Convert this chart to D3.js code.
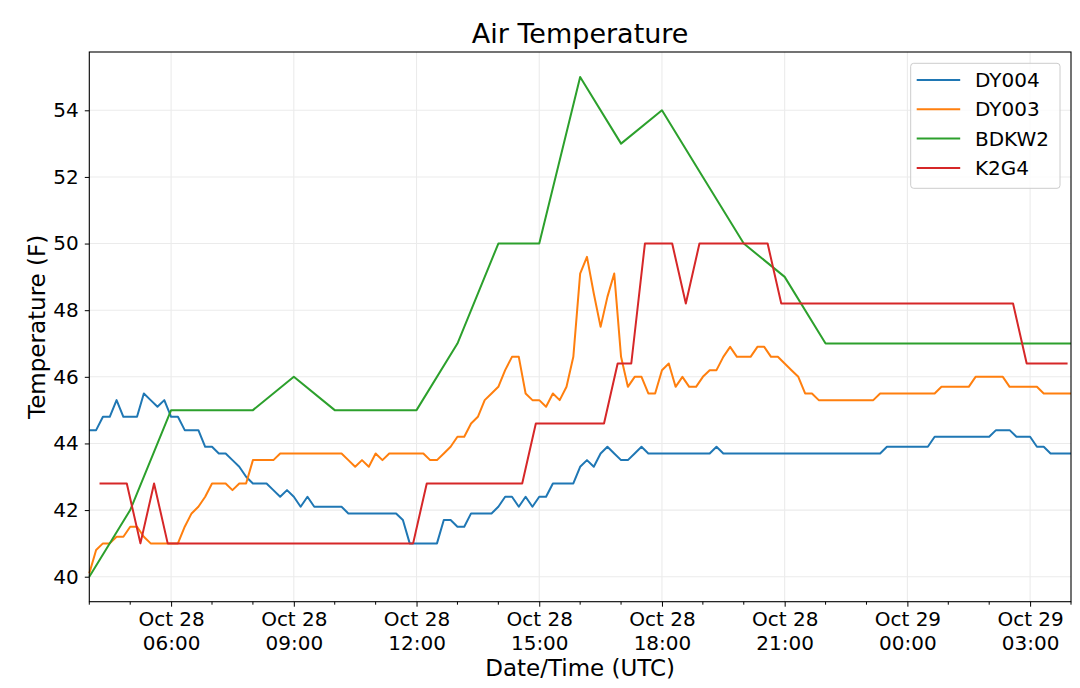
<!DOCTYPE html>
<html>
<head>
<meta charset="utf-8">
<script src="https://cdn.jsdelivr.net/npm/d3@7"></script>
<style>
body { margin: 0; background: #fff; }
text { font-family: "DejaVu Sans", sans-serif; fill: #000; }
</style>
</head>
<body>
<div id="chart"></div>
<script>
// series names and colours (matplotlib tab10)
var seriesNames = ['DY004', 'DY003', 'BDKW2', 'K2G4']
var seriesColors = ['#1f77b4', '#ff7f0e', '#2ca02c', '#d62728']

// DY004 / DY003 are sampled every 10 minutes from 10/28 04:00 UTC, one row per hour
var sampleStart = '10/28 04:00'
var sampleStepMinutes = 10
var dy004 = [
  44.4, 44.4, 44.8, 44.8, 45.3, 44.8,   // 04
  44.8, 44.8, 45.5, 45.3, 45.1, 45.3,   // 05
  44.8, 44.8, 44.4, 44.4, 44.4, 43.9,   // 06
  43.9, 43.7, 43.7, 43.5, 43.3, 43.0,   // 07
  42.8, 42.8, 42.8, 42.6, 42.4, 42.6,   // 08
  42.4, 42.1, 42.4, 42.1, 42.1, 42.1,   // 09
  42.1, 42.1, 41.9, 41.9, 41.9, 41.9,   // 10
  41.9, 41.9, 41.9, 41.9, 41.7, 41.0,   // 11
  41.0, 41.0, 41.0, 41.0, 41.7, 41.7,   // 12
  41.5, 41.5, 41.9, 41.9, 41.9, 41.9,   // 13
  42.1, 42.4, 42.4, 42.1, 42.4, 42.1,   // 14
  42.4, 42.4, 42.8, 42.8, 42.8, 42.8,   // 15
  43.3, 43.5, 43.3, 43.7, 43.9, 43.7,   // 16
  43.5, 43.5, 43.7, 43.9, 43.7, 43.7,   // 17
  43.7, 43.7, 43.7, 43.7, 43.7, 43.7,   // 18
  43.7, 43.7, 43.9, 43.7, 43.7, 43.7,   // 19
  43.7, 43.7, 43.7, 43.7, 43.7, 43.7,   // 20
  43.7, 43.7, 43.7, 43.7, 43.7, 43.7,   // 21
  43.7, 43.7, 43.7, 43.7, 43.7, 43.7,   // 22
  43.7, 43.7, 43.7, 43.9, 43.9, 43.9,   // 23
  43.9, 43.9, 43.9, 43.9, 44.2, 44.2,   // 00
  44.2, 44.2, 44.2, 44.2, 44.2, 44.2,   // 01
  44.2, 44.4, 44.4, 44.4, 44.2, 44.2,   // 02
  44.2, 43.9, 43.9, 43.7, 43.7, 43.7,   // 03
  43.7                                  // 04
]
var dy003 = [
  40.1, 40.8, 41.0, 41.0, 41.2, 41.2,   // 04
  41.5, 41.5, 41.2, 41.0, 41.0, 41.0,   // 05
  41.0, 41.0, 41.5, 41.9, 42.1, 42.4,   // 06
  42.8, 42.8, 42.8, 42.6, 42.8, 42.8,   // 07
  43.5, 43.5, 43.5, 43.5, 43.7, 43.7,   // 08
  43.7, 43.7, 43.7, 43.7, 43.7, 43.7,   // 09
  43.7, 43.7, 43.5, 43.3, 43.5, 43.3,   // 10
  43.7, 43.5, 43.7, 43.7, 43.7, 43.7,   // 11
  43.7, 43.7, 43.5, 43.5, 43.7, 43.9,   // 12
  44.2, 44.2, 44.6, 44.8, 45.3, 45.5,   // 13
  45.7, 46.2, 46.6, 46.6, 45.5, 45.3,   // 14
  45.3, 45.1, 45.5, 45.3, 45.7, 46.6,   // 15
  49.1, 49.6, 48.5, 47.5, 48.4, 49.1,   // 16
  46.6, 45.7, 46.0, 46.0, 45.5, 45.5,   // 17
  46.2, 46.4, 45.7, 46.0, 45.7, 45.7,   // 18
  46.0, 46.2, 46.2, 46.6, 46.9, 46.6,   // 19
  46.6, 46.6, 46.9, 46.9, 46.6, 46.6,   // 20
  46.4, 46.2, 46.0, 45.5, 45.5, 45.3,   // 21
  45.3, 45.3, 45.3, 45.3, 45.3, 45.3,   // 22
  45.3, 45.3, 45.5, 45.5, 45.5, 45.5,   // 23
  45.5, 45.5, 45.5, 45.5, 45.5, 45.7,   // 00
  45.7, 45.7, 45.7, 45.7, 46.0, 46.0,   // 01
  46.0, 46.0, 46.0, 45.7, 45.7, 45.7,   // 02
  45.7, 45.7, 45.5, 45.5, 45.5, 45.5,   // 03
  45.5                                  // 04
]

// BDKW2, hourly
var bdkw2Times = ['10/28 04:00', '10/28 05:00', '10/28 06:00', '10/28 07:00', '10/28 08:00',
  '10/28 09:00', '10/28 10:00', '10/28 11:00', '10/28 12:00', '10/28 13:00', '10/28 14:00',
  '10/28 15:00', '10/28 16:00', '10/28 17:00', '10/28 18:00', '10/28 19:00', '10/28 20:00',
  '10/28 21:00', '10/28 22:00', '10/28 23:00', '10/29 00:00', '10/29 01:00', '10/29 02:00',
  '10/29 03:00', '10/29 04:00']
var bdkw2Values = [40, 42, 45, 45, 45, 46, 45, 45, 45, 47, 50, 50, 55, 53, 54, 52, 50,
  49, 47, 47, 47, 47, 47, 47, 47]

// K2G4 (reports at :15 :35 :55, only the turning points are listed)
var k2g4Times = ['10/28 04:15', '10/28 04:55', '10/28 05:15', '10/28 05:35', '10/28 05:55',
  '10/28 11:55', '10/28 12:15', '10/28 14:35', '10/28 14:55', '10/28 16:35', '10/28 16:55',
  '10/28 17:15', '10/28 17:35', '10/28 18:15', '10/28 18:35', '10/28 18:55', '10/28 20:35',
  '10/28 20:55', '10/29 02:35', '10/29 02:55', '10/29 03:55']
var k2g4Values = [42.8, 42.8, 41.0, 42.8, 41.0, 41.0, 42.8, 42.8, 44.6, 44.6, 46.4,
  46.4, 50.0, 50.0, 48.2, 50.0, 50.0, 48.2, 48.2, 46.4, 46.4]

var xDomain = ['10/28 04:00', '10/29 04:00']
var yDomain = [39.25, 55.75]
var yTicks = [40, 42, 44, 46, 48, 50, 52, 54]

var width = 1080, height = 688
var margin = {top: 52, right: 9, bottom: 86.3, left: 89.3}
var parse = d3.utcParse('%m/%d %H:%M')

var svg = d3.select('#chart').append('svg').attr('width', width).attr('height', height)

var x = d3.scaleUtc()
  .domain(xDomain.map(parse))
  .range([margin.left, width - margin.right])
var y = d3.scaleLinear()
  .domain(yDomain)
  .range([height - margin.bottom, margin.top])

var start = parse(sampleStart)
function sampled(values) {
  return values.map(function (v, i) {
    return {t: d3.utcMinute.offset(start, i * sampleStepMinutes), v: v}
  })
}
function paired(times, values) {
  return times.map(function (t, i) { return {t: parse(t), v: values[i]} })
}
var series = [sampled(dy004), sampled(dy003), paired(bdkw2Times, bdkw2Values), paired(k2g4Times, k2g4Values)]

var majorTicks = d3.utcHour.every(3).range(x.domain()[0], x.domain()[1])
var minorTicks = d3.utcHour.range(x.domain()[0], d3.utcMinute.offset(x.domain()[1], 1))
  .filter(function (d) { return d.getUTCHours() % 3 !== 0 })

// grid
svg.append('g').selectAll('line').data(majorTicks).enter().append('line')
  .attr('x1', function (d) { return x(d) }).attr('x2', function (d) { return x(d) })
  .attr('y1', y.range()[1]).attr('y2', y.range()[0])
  .attr('stroke', '#ebebeb').attr('stroke-width', 1.1)
svg.append('g').selectAll('line').data(yTicks).enter().append('line')
  .attr('y1', function (d) { return y(d) }).attr('y2', function (d) { return y(d) })
  .attr('x1', x.range()[0]).attr('x2', x.range()[1])
  .attr('stroke', '#ebebeb').attr('stroke-width', 1.1)

// lines
var line = d3.line().x(function (d) { return x(d.t) }).y(function (d) { return y(d.v) })
svg.append('g').selectAll('path').data(series).enter().append('path')
  .attr('d', line)
  .attr('fill', 'none')
  .attr('stroke', function (d, i) { return seriesColors[i] })
  .attr('stroke-width', 2)
  .attr('stroke-linejoin', 'round')

// axes
var yAxis = d3.axisLeft(y).tickValues(yTicks).tickSize(4.5).tickPadding(6)
var gy = svg.append('g').attr('transform', 'translate(' + margin.left + ',0)').call(yAxis)
gy.select('.domain').remove()
gy.selectAll('text').style('font-size', '20px').attr('fill', '#000')

var xAxis = d3.axisBottom(x).tickValues(majorTicks).tickSize(5).tickFormat('')
var gx = svg.append('g').attr('transform', 'translate(0,' + (height - margin.bottom) + ')').call(xAxis)
gx.select('.domain').remove()
gx.selectAll('.tick text').remove()
var labels = gx.selectAll('.tick').append('text')
  .attr('text-anchor', 'middle').style('font-size', '20px')
labels.append('tspan').attr('x', 0).attr('y', 24).text(d3.utcFormat('%b %d'))
labels.append('tspan').attr('x', 0).attr('y', 48.3).text(d3.utcFormat('%H:%M'))

svg.append('g').selectAll('line').data(minorTicks).enter().append('line')
  .attr('x1', function (d) { return x(d) }).attr('x2', function (d) { return x(d) })
  .attr('y1', height - margin.bottom).attr('y2', height - margin.bottom + 3)
  .attr('stroke', '#000').attr('stroke-width', 1)

// frame
svg.append('rect')
  .attr('x', x.range()[0]).attr('y', y.range()[1])
  .attr('width', x.range()[1] - x.range()[0]).attr('height', y.range()[0] - y.range()[1])
  .attr('fill', 'none').attr('stroke', '#000').attr('stroke-width', 1.1)

// titles
svg.append('text').attr('x', (x.range()[0] + x.range()[1]) / 2).attr('y', 43.3)
  .attr('text-anchor', 'middle').style('font-size', '27px').text('Air Temperature')
svg.append('text').attr('x', (x.range()[0] + x.range()[1]) / 2).attr('y', 675.5)
  .attr('text-anchor', 'middle').style('font-size', '23px').text('Date/Time (UTC)')
svg.append('text')
  .attr('transform', 'translate(45,' + ((y.range()[0] + y.range()[1]) / 2) + ') rotate(-90)')
  .attr('text-anchor', 'middle').style('font-size', '23px').text('Temperature (F)')

// legend
var legend = svg.append('g').attr('transform', 'translate(910.7,63.3)')
legend.append('rect').attr('width', 149.3).attr('height', 125).attr('rx', 3)
  .attr('fill', '#fff').attr('fill-opacity', 0.8).attr('stroke', '#cccccc').attr('stroke-width', 1)
var item = legend.selectAll('.item').data(seriesNames).enter().append('g')
  .attr('transform', function (d, i) { return 'translate(0,' + (16.7 + i * 29.3) + ')' })
item.append('line').attr('x1', 6).attr('x2', 49.5)
  .attr('stroke', function (d, i) { return seriesColors[i] }).attr('stroke-width', 2)
item.append('text').attr('x', 64.3).attr('y', 7).style('font-size', '20px').text(function (d) { return d })
</script>
</body>
</html>
